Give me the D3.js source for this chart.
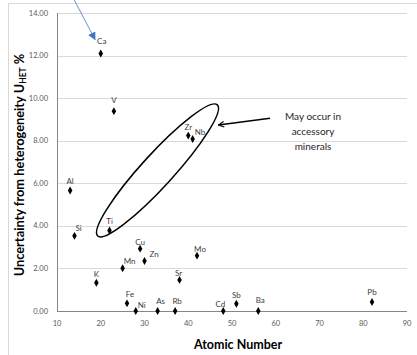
<!DOCTYPE html>
<html>
<head>
<meta charset="utf-8">
<script src="https://cdn.jsdelivr.net/npm/d3@7"></script>
<style>
  body { margin: 0; background: #fff; }
  text { font-family: Lato, "Open Sans", sans-serif; }
</style>
</head>
<body>
<div id="chart"></div>
<script>
// data
const elements = ["Ca","V","Zr","Nb","Al","Ti","Si","Cu","Mo","Zn","Mn","Sr","K","Fe","Sb","Pb","Ni","As","Rb","Cd","Ba"];
const atomicNumber = [20, 23, 40, 41, 13, 22, 14, 29, 42, 30, 25, 38, 19, 26, 51, 82, 28, 33, 37, 48, 56];
const uncertainty = [12.1, 9.39, 8.24, 8.08, 5.66, 3.78, 3.53, 2.93, 2.60, 2.35, 2.01, 1.46, 1.33, 0.36, 0.34, 0.42, 0, 0, 0, 0, 0];
const xTicks = [10, 20, 30, 40, 50, 60, 70, 80, 90];
const yTicks = [0, 2, 4, 6, 8, 10, 12, 14];
const noteLines = ["May occur in", "accessory", "minerals"];

const data = elements.map((e, i) => ({el: e, z: atomicNumber[i], u: uncertainty[i]}));

// label nudges (px) so they sit like the original
const labelNudge = {
  Nb: [2, -4, "start"], Zn: [5, -4, "start"], Si: [1, -5, "start"], Mn: [1, -4, "start"],
  Ni: [2, -3, "start"], Cd: [2, -4, "end"], Zr: [0, -6], Cu: [0, -4], Mo: [3, -4],
  Sr: [-1, -4], As: [3, -7], Rb: [2, -7], Fe: [3, -6], Ba: [2, -8], Sb: [0, -6],
  K: [0, -6], Pb: [0, -7], Ti: [0, -7], Al: [0, -7], V: [0, -8], Ca: [1, -9]
};

const width = 417, height = 355;
const svg = d3.select("#chart").append("svg")
  .attr("width", width).attr("height", height);

const x = d3.scaleLinear().domain([10, 90]).range([57, 407]);
const y = d3.scaleLinear().domain([0, 14]).range([311, 13]);

// chart area border (left + top visible)
svg.append("path")
  .attr("d", `M8.5,${height} V3.5 H${width}`)
  .attr("fill", "none").attr("stroke", "#d9d9d9").attr("stroke-width", 1);

// gridlines
svg.append("g").selectAll("line")
  .data(yTicks.filter(d => d > 0))
  .join("line")
    .attr("x1", x(10)).attr("x2", x(90))
    .attr("y1", d => Math.round(y(d)) + 0.5).attr("y2", d => Math.round(y(d)) + 0.5)
    .attr("stroke", "#d9d9d9");

// axes lines
svg.append("line")
  .attr("x1", Math.round(x(10)) + 0.5).attr("x2", Math.round(x(10)) + 0.5)
  .attr("y1", y(14)).attr("y2", y(0))
  .attr("stroke", "#868686");
svg.append("line")
  .attr("x1", x(10)).attr("x2", x(90))
  .attr("y1", Math.round(y(0)) + 0.5).attr("y2", Math.round(y(0)) + 0.5)
  .attr("stroke", "#868686");

// tick labels
svg.append("g").selectAll("text")
  .data(yTicks)
  .join("text")
    .attr("x", 48).attr("y", d => y(d) + 2.5)
    .attr("text-anchor", "end")
    .attr("font-size", 7.5).attr("fill", "#595959")
    .text(d => d.toFixed(2));
svg.append("g").selectAll("text")
  .data(xTicks)
  .join("text")
    .attr("x", d => x(d)).attr("y", 326)
    .attr("text-anchor", "middle")
    .attr("font-size", 7.5).attr("fill", "#595959")
    .text(d => d);

// axis titles
svg.append("text")
  .attr("x", 238).attr("y", 349)
  .attr("text-anchor", "middle")
  .attr("font-size", 12.5).attr("font-weight", "bold").attr("fill", "#000")
  .text("Atomic Number");

const yt = svg.append("text")
  .attr("transform", `translate(24,${(y(0) + y(14)) / 2 + 3}) rotate(-90)`)
  .attr("text-anchor", "middle")
  .attr("font-size", 12.8).attr("font-weight", "bold").attr("fill", "#000");
yt.append("tspan").text("Uncertainty from heterogeneity U");
yt.append("tspan").attr("font-size", 8.5).attr("dy", 2).text("HET");
yt.append("tspan").attr("dy", -2).text(" %");

// markers
const diamond = d3.symbol().type(d3.symbolDiamond).size(18);
svg.append("g").selectAll("path")
  .data(data)
  .join("path")
    .attr("transform", d => `translate(${x(d.z)},${y(d.u)})`)
    .attr("d", diamond)
    .attr("fill", "#000");

// point labels
svg.append("g").selectAll("text")
  .data(data)
  .join("text")
    .attr("x", d => x(d.z) + (labelNudge[d.el] || [0, -6])[0])
    .attr("y", d => y(d.u) + (labelNudge[d.el] || [0, -6])[1])
    .attr("text-anchor", d => (labelNudge[d.el] || [])[2] || "middle")
    .attr("font-size", 8).attr("fill", "#404040")
    .text(d => d.el);

// ellipse round Ti, Zr, Nb
const p1 = [x(19.15), y(3.49)], p2 = [x(46.8), y(9.72)];
const cx = (p1[0] + p2[0]) / 2, cy = (p1[1] + p2[1]) / 2;
const ang = Math.atan2(p2[1] - p1[1], p2[0] - p1[0]) * 180 / Math.PI;
const semi = Math.hypot(p2[0] - p1[0], p2[1] - p1[1]) / 2;
svg.append("ellipse")
  .attr("transform", `translate(${cx},${cy}) rotate(${ang})`)
  .attr("rx", semi - 1).attr("ry", 16)
  .attr("fill", "none").attr("stroke", "#000").attr("stroke-width", 1.5);

// arrowheads
const defs = svg.append("defs");
defs.append("marker")
  .attr("id", "openArrow").attr("viewBox", "0 0 10 10")
  .attr("refX", 9).attr("refY", 5)
  .attr("markerWidth", 7).attr("markerHeight", 7)
  .attr("markerUnits", "userSpaceOnUse")
  .attr("orient", "auto")
  .append("path").attr("d", "M1,1 L9,5 L1,9")
  .attr("fill", "none").attr("stroke", "#000").attr("stroke-width", 1.6);
defs.append("marker")
  .attr("id", "blueArrow").attr("viewBox", "0 0 10 10")
  .attr("refX", 9).attr("refY", 5)
  .attr("markerWidth", 8).attr("markerHeight", 8)
  .attr("markerUnits", "userSpaceOnUse")
  .attr("orient", "auto")
  .append("path").attr("d", "M0,0 L10,5 L0,10 Z")
  .attr("fill", "#4472c4");

// callout arrow and note
svg.append("line")
  .attr("x1", x(58.7)).attr("y1", y(9.06))
  .attr("x2", x(46.9)).attr("y2", y(8.74))
  .attr("stroke", "#000").attr("stroke-width", 1.5)
  .attr("marker-end", "url(#openArrow)");

svg.append("g").selectAll("text")
  .data(noteLines)
  .join("text")
    .attr("x", 313).attr("y", (d, i) => 120 + i * 15)
    .attr("text-anchor", "middle")
    .attr("font-size", 10).attr("fill", "#262626")
    .text(d => d);

// blue arrow at top pointing at Ca
svg.append("line")
  .attr("x1", x(13.6)).attr("y1", y(14.75))
  .attr("x2", x(18.7)).attr("y2", y(12.75))
  .attr("stroke", "#4472c4").attr("stroke-width", 0.8)
  .attr("marker-end", "url(#blueArrow)");
</script>
</body>
</html>
